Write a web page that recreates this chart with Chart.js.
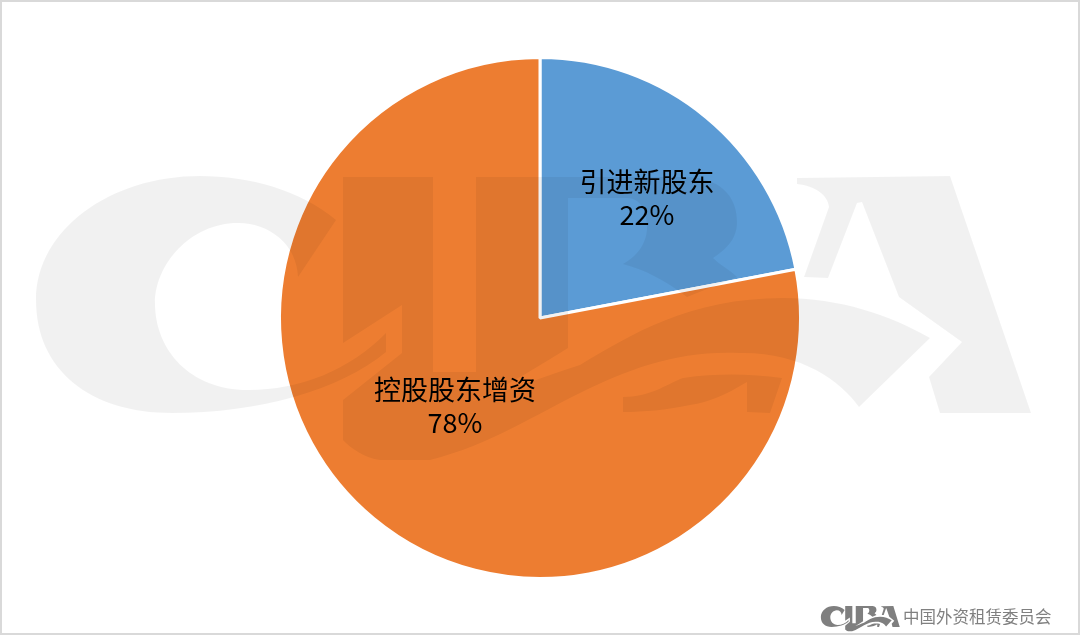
<!doctype html>
<html>
<head>
<meta charset="utf-8">
<title>股东结构</title>
<script src="https://cdn.jsdelivr.net/npm/chart.js@4"></script>
<style>
  html, body { margin: 0; padding: 0; background: #fff; }
  canvas { display: block; }
</style>
</head>
<body>
<canvas id="myChart" width="1080" height="637"></canvas>
<script>
const categories = ['引进新股东', '控股股东增资'];
const shares = [22, 78];
const sliceColors = ['#5B9BD5', '#ED7D31'];
const footerText = '中国外资租赁委员会';

// label nudges from the slice centre, in px
const labelOffsets = [[24, -20], [-2, -13]];

// CIBA logo outline, used as big watermark and small footer mark
const logoPaths = [
  'M336 220 C300 190 250 176 200 176 C110 176 36 230 36 300 C36 370 90 413 172 413 C260 413 340 390 386 352 L386 333 C350 370 300 390 248 390 C190 390 155 350 155 303 C155 265 190 223 238 223 C270 223 297 245 298 277 Z',
  'M343 177 L433 177 L433 372 L476 372 L476 177 L690 177 C725 180 737 200 737 222 C737 240 725 250 713 258 C720 265 730 270 737 277 L687 297 C665 280 645 270 623 264 C640 255 647 240 647 228 C647 210 640 198 627 198 L568 198 L568 348 C545 362 510 385 470 402 C510 390 540 378 580 365 C630 335 690 298 783 298 C840 298 890 315 930 338 L859 407 C840 380 800 352 740 353 C680 350 630 368 580 393 C540 412 490 445 430 460 L380 460 C365 458 350 448 343 440 L343 400 L402 353 L402 305 L343 343 Z',
  'M623 397 C650 397 665 385 683 378 C720 373 750 374 782 378 L770 413 L747 412 L747 382 C725 395 710 402 690 405 C665 410 645 412 623 412 Z',
  'M797 178 L950 176 L1031 413 L940 413 L929 377 L962 342 L899 297 L862 202 L857 203 L828 278 L804 277 L829 207 C828 195 815 186 797 184 Z'
].map(d => new Path2D(d));

function drawLogo(ctx, color, sx, sy, tx, ty) {
  ctx.save();
  ctx.translate(tx, ty);
  ctx.scale(sx, sy);
  ctx.fillStyle = color;
  logoPaths.forEach(p => ctx.fill(p));
  ctx.restore();
}

const decorations = {
  id: 'decorations',
  beforeDraw(chart) {
    const ctx = chart.ctx;
    ctx.save();
    ctx.strokeStyle = '#d9d9d9';
    ctx.lineWidth = 2;
    ctx.strokeRect(1, 1, 1078, 633);
    ctx.restore();
  },
  afterDatasetsDraw(chart) {
    const ctx = chart.ctx;
    drawLogo(ctx, 'rgba(0,0,0,0.055)', 1, 1, 0, 0);

    // slice labels
    ctx.save();
    ctx.fillStyle = '#000';
    ctx.textAlign = 'center';
    ctx.textBaseline = 'middle';
    ctx.font = '27px "Noto Sans CJK SC"';
    chart.getDatasetMeta(0).data.forEach((arc, i) => {
      const c = arc.getCenterPoint();
      const x = c.x + labelOffsets[i][0];
      const y = c.y + labelOffsets[i][1];
      ctx.fillText(categories[i], x, y - 16);
      ctx.fillText(shares[i] + '%', x, y + 17);
    });

    // footer mark
    drawLogo(ctx, '#7f7f7f', 0.0793, 0.0886, 818, 590.4);
    ctx.fillStyle = '#808080';
    ctx.textAlign = 'left';
    ctx.font = '16.5px "Noto Sans CJK SC"';
    ctx.fillText(footerText, 903, 617);
    ctx.restore();
  }
};

new Chart(document.getElementById('myChart').getContext('2d'), {
  type: 'pie',
  data: {
    labels: categories,
    datasets: [{
      data: shares,
      backgroundColor: sliceColors,
      borderColor: '#fff',
      borderWidth: 3
    }]
  },
  options: {
    responsive: false,
    animation: false,
    devicePixelRatio: 1,
    layout: { padding: { top: 56, bottom: 57 } },
    plugins: {
      legend: { display: false },
      tooltip: { enabled: false }
    }
  },
  plugins: [decorations]
});
</script>
</body>
</html>
